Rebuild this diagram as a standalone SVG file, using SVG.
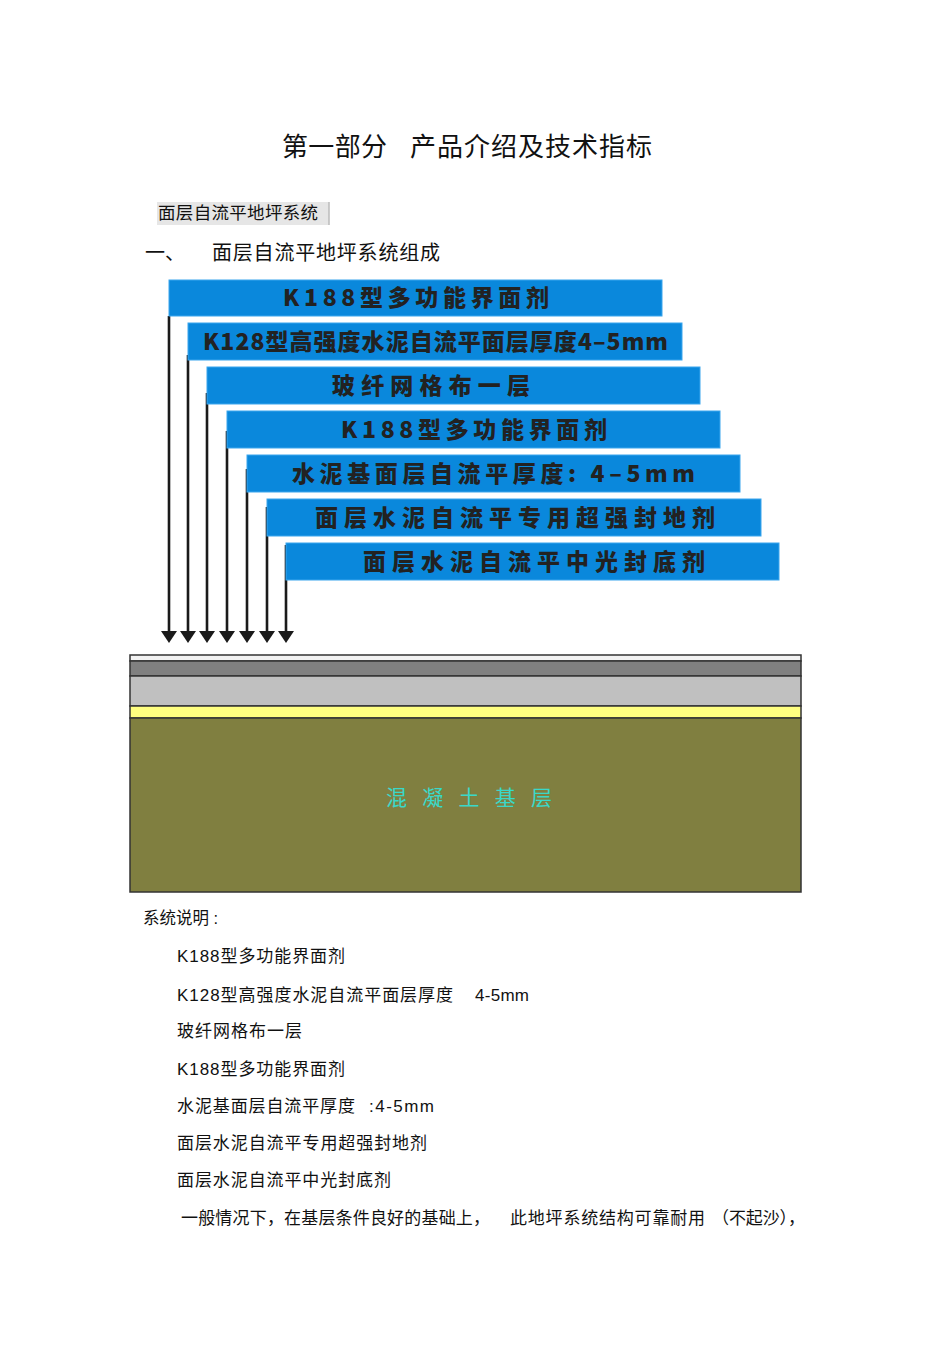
<svg xmlns="http://www.w3.org/2000/svg" width="950" height="1345" viewBox="0 0 950 1345">
<style>
.t{font-family:"Liberation Sans","Noto Sans CJK SC",sans-serif;fill:#111}
.bar{fill:#0a88dc;stroke:#3aa6ee;stroke-width:1}
.bt{font-family:"Noto Sans CJK SC","Liberation Sans",sans-serif;font-weight:900;font-size:23px;fill:#222}
.ln{stroke:#1a1a1a;stroke-width:2.6;fill:none}
.ah{fill:#1a1a1a}
.d{font-size:17px}
</style>
<rect width="950" height="1345" fill="#ffffff"/>
<g id="title">
<text class="t" x="282" y="156" font-size="26" textLength="105">第一部分</text>
<text class="t" x="410" y="156" font-size="26" textLength="242">产品介绍及技术指标</text>
</g>
<g id="label">
<rect x="157" y="202" width="172" height="23" fill="#e6e6e6"/>
<line x1="329" y1="202" x2="329" y2="225" stroke="#bbbbbb" stroke-width="1.5"/>
<text class="t" x="158" y="219" font-size="17.5" textLength="160">面层自流平地坪系统</text>
</g>
<g id="heading">
<text class="t" x="145" y="260" font-size="20">一、</text>
<text class="t" x="212" y="260" font-size="20" textLength="228">面层自流平地坪系统组成</text>
</g>
<g id="connectors">
<line class="ln" x1="169" y1="316" x2="169" y2="632"/>
<line class="ln" x1="188" y1="355" x2="188" y2="632"/>
<line class="ln" x1="207" y1="393" x2="207" y2="632"/>
<line class="ln" x1="227" y1="431" x2="227" y2="632"/>
<line class="ln" x1="247" y1="469" x2="247" y2="632"/>
<line class="ln" x1="267" y1="507" x2="267" y2="632"/>
<line class="ln" x1="286" y1="545" x2="286" y2="632"/>
<polygon class="ah" points="161,631 177,631 169,643"/>
<polygon class="ah" points="180,631 196,631 188,643"/>
<polygon class="ah" points="199,631 215,631 207,643"/>
<polygon class="ah" points="219,631 235,631 227,643"/>
<polygon class="ah" points="239,631 255,631 247,643"/>
<polygon class="ah" points="259,631 275,631 267,643"/>
<polygon class="ah" points="278,631 294,631 286,643"/>
</g>
<g id="bar1"><rect class="bar" x="169" y="280" width="493" height="36"/><text class="bt" x="283" y="306" textLength="266" lengthAdjust="spacing">K188型多功能界面剂</text></g>
<g id="bar2"><rect class="bar" x="188" y="323" width="494" height="37"/><text class="bt" x="203" y="350" textLength="465" lengthAdjust="spacing">K128型高强度水泥自流平面层厚度4–5mm</text></g>
<g id="bar3"><rect class="bar" x="207" y="367" width="493" height="37"/><text class="bt" x="332" y="394" textLength="198" lengthAdjust="spacing">玻纤网格布一层</text></g>
<g id="bar4"><rect class="bar" x="227" y="411" width="493" height="37"/><text class="bt" x="341" y="438" textLength="266" lengthAdjust="spacing">K188型多功能界面剂</text></g>
<g id="bar5"><rect class="bar" x="247" y="455" width="493" height="37"/><text class="bt" x="292" y="482" textLength="403" lengthAdjust="spacing">水泥基面层自流平厚度: 4–5mm</text></g>
<g id="bar6"><rect class="bar" x="267" y="499" width="494" height="37"/><text class="bt" x="315" y="526" textLength="400" lengthAdjust="spacing">面层水泥自流平专用超强封地剂</text></g>
<g id="bar7"><rect class="bar" x="286" y="543" width="493" height="37"/><text class="bt" x="363" y="570" textLength="342" lengthAdjust="spacing">面层水泥自流平中光封底剂</text></g>
<g id="slab">
<rect x="130" y="655" width="671" height="6" fill="#f2f2f2" stroke="#333" stroke-width="1.5"/>
<rect x="130" y="661" width="671" height="15" fill="#808080" stroke="#333" stroke-width="1.5"/>
<rect x="130" y="676" width="671" height="30" fill="#c0c0c0" stroke="#333" stroke-width="1.5"/>
<rect x="130" y="706" width="671" height="12" fill="#ffff80" stroke="#333" stroke-width="1.5"/>
<rect x="130" y="718" width="671" height="174" fill="#807f40" stroke="#333" stroke-width="1.5"/>
<text x="386" y="805" font-family="Noto Sans CJK SC,sans-serif" font-size="21" fill="#3ad8c8" textLength="166" lengthAdjust="spacing">混 凝 土 基 层</text>
</g>
<g id="desc">
<text class="t" x="143" y="924" font-size="16.5">系统说明 :</text>
<text class="t d" x="177" y="962" textLength="168">K188型多功能界面剂</text>
<text class="t d" x="177" y="1001" textLength="276">K128型高强度水泥自流平面层厚度</text>
<text class="t d" x="475" y="1001" textLength="54">4-5mm</text>
<text class="t d" x="177" y="1037" textLength="125">玻纤网格布一层</text>
<text class="t d" x="177" y="1075" textLength="168">K188型多功能界面剂</text>
<text class="t d" x="177" y="1112" textLength="178">水泥基面层自流平厚度</text>
<text class="t d" x="369" y="1112" textLength="65">:4-5mm</text>
<text class="t d" x="177" y="1149" textLength="250">面层水泥自流平专用超强封地剂</text>
<text class="t d" x="177" y="1186" textLength="214">面层水泥自流平中光封底剂</text>
<text class="t d" x="181" y="1224" textLength="309">一般情况下，在基层条件良好的基础上，</text>
<text class="t d" x="510" y="1224" textLength="195">此地坪系统结构可靠耐用</text>
<text class="t d" x="712" y="1224" textLength="93">（不起沙），</text>
</g>
</svg>
